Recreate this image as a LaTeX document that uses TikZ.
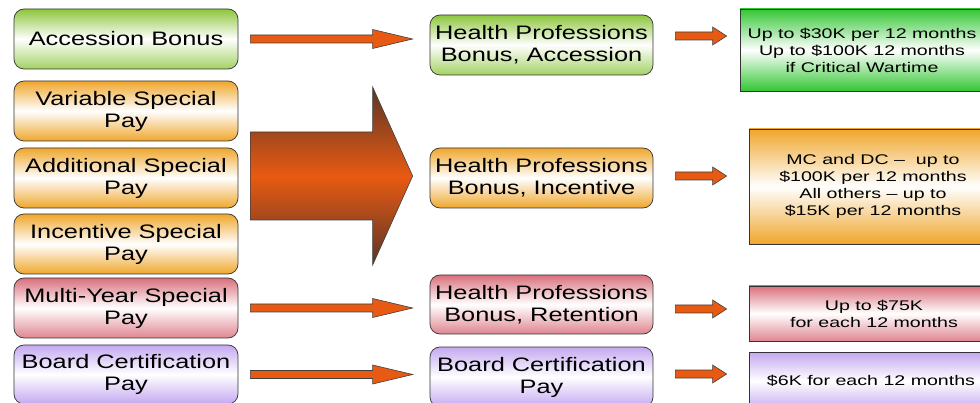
\documentclass[tikz,border=0pt]{standalone}
\usepackage{fontspec}
\setmainfont{Liberation Sans}[FakeStretch=1.3]
\newfontfamily\rfont{Liberation Sans}[FakeStretch=1.4]
\usetikzlibrary{calc}
\definecolor{lgreen}{HTML}{8CC63C}
\definecolor{lorange}{HTML}{EFA62C}
\definecolor{lred}{HTML}{D9707C}
\definecolor{lpurple}{HTML}{C4A8F0}
\definecolor{rgreen}{HTML}{33C633}
\definecolor{arrfill}{HTML}{E85A12}
\definecolor{arrdark}{HTML}{5A3528}
\newcommand\blockarrow[6]{%
  \path[#1] let \p1=(#2), \p2=(#3) in
   (\x1,\y1+#4) -- (\x2-#6,\y1+#4) -- (\x2-#6,\y1+#5) -- (\x2,\y1)
   -- (\x2-#6,\y1-#5) -- (\x2-#6,\y1-#4) -- (\x1,\y1-#4) -- cycle;}
\tikzset{
  rbox/.style={draw=black!80, line width=0.7pt, rounded corners=10pt,
    minimum height=60pt, inner sep=0pt, align=center,
    font=\fontsize{19.5}{22}\selectfont},
  lbox/.style={rbox, minimum width=224pt},
  mbox/.style={rbox, minimum width=223pt},
  valbox/.style={draw=black!80, line width=0.7pt, inner sep=0pt, align=center,
    font=\rfont\fontsize{14}{17}\selectfont},
  gsh/.style={top color=lgreen, bottom color=lgreen!80, middle color=white},
  osh/.style={top color=lorange, bottom color=lorange, middle color=white},
  psh/.style={top color=lred, bottom color=lred!85, middle color=white},
  vsh/.style={top color=lpurple, bottom color=lpurple, middle color=white},
  rgsh/.style={top color=rgreen, bottom color=rgreen, middle color=white},
  arr/.style={fill=arrfill, draw=black!75, line width=0.6pt},
  bigarr/.style={draw=black!75, line width=0.6pt, top color=arrdark,
    bottom color=arrdark, middle color=arrfill}
}
\begin{document}
\begin{tikzpicture}[x=1pt,y=-1pt]
\useasboundingbox (0,0) rectangle (980,403);
% left column
\node[lbox, gsh] (L1) at (126,39) {Accession Bonus};
\node[lbox, osh] (L2) at (126,111) {Variable Special\\Pay};
\node[lbox, osh] (L3) at (126,178) {Additional Special\\Pay};
\node[lbox, osh] (L4) at (126,244) {Incentive Special\\Pay};
\node[lbox, psh] (L5) at (126,308) {Multi-Year Special\\Pay};
\node[lbox, vsh, minimum height=59pt] (L6) at (126,374.5) {Board Certification\\Pay};
% middle column
\node[mbox, gsh] (M1) at (541.5,45) {Health Professions\\Bonus, Accession};
\node[mbox, osh] (M2) at (541.5,178) {Health Professions\\Bonus, Incentive};
\node[mbox, psh, minimum height=59pt] (M3) at (541.5,304.5) {Health Professions\\Bonus, Retention};
\node[mbox, vsh] (M4) at (541.5,377) {Board Certification\\Pay};
% right column
\node[valbox, rgsh, minimum width=244pt, minimum height=82pt] (R1) at (862,50)
  {Up to \$30K per 12 months\\Up to \$100K 12 months\\if Critical Wartime};
\node[valbox, osh, minimum width=248pt, minimum height=115pt] (R2) at (873,186.5)
  {MC and DC –\ \ up to\\\$100K per 12 months\\All others – up to\\\$15K per 12 months};
\node[valbox, psh, minimum width=250pt, minimum height=55pt] (R3) at (874,313.5)
  {Up to \$75K\\for each 12 months};
\node[valbox, vsh, minimum width=244pt, minimum height=58pt] (R4) at (871,381)
  {\$6K for each 12 months};
% long arrows
\coordinate (a1s) at ($(L1.east)+(12,0)$);
\coordinate (a1e) at ($(a1s -| M1.west)+(-17,0)$);
\blockarrow{arr}{a1s}{a1e}{4pt}{9.5pt}{40pt}
\coordinate (a5s) at ($(L5.east)+(12,0)$);
\coordinate (a5e) at ($(a5s -| M3.west)+(-17,0)$);
\blockarrow{arr}{a5s}{a5e}{4pt}{9.5pt}{40pt}
\coordinate (a6s) at ($(L6.east)+(12,0)$);
\coordinate (a6e) at ($(a6s -| M4.west)+(-17,0)$);
\blockarrow{arr}{a6s}{a6e}{4pt}{9.5pt}{40pt}
% big arrow
\coordinate (bs) at ($(L3.east)+(12,-2)$);
\coordinate (be) at ($(bs -| M2.west)+(-17,0)$);
\blockarrow{bigarr}{bs}{be}{44pt}{89pt}{40pt}
% small arrows
\coordinate (s1s) at ($(M1.east)+(22,-9)$);
\coordinate (s1e) at ($(s1s -| R1.west)+(-13,0)$);
\blockarrow{arr}{s1s}{s1e}{4pt}{9pt}{14pt}
\coordinate (s2s) at ($(M2.east)+(22,-2)$);
\coordinate (s2e) at ($(s2s -| R2.west)+(-22,0)$);
\blockarrow{arr}{s2s}{s2e}{4pt}{9pt}{14pt}
\coordinate (s3s) at ($(M3.east)+(22,4.5)$);
\coordinate (s3e) at ($(s3s -| R3.west)+(-22,0)$);
\blockarrow{arr}{s3s}{s3e}{4pt}{9pt}{14pt}
\coordinate (s4s) at ($(M4.east)+(22,-3)$);
\coordinate (s4e) at ($(s4s -| R4.west)+(-22,0)$);
\blockarrow{arr}{s4s}{s4e}{4pt}{9pt}{14pt}
\end{tikzpicture}
\end{document}
